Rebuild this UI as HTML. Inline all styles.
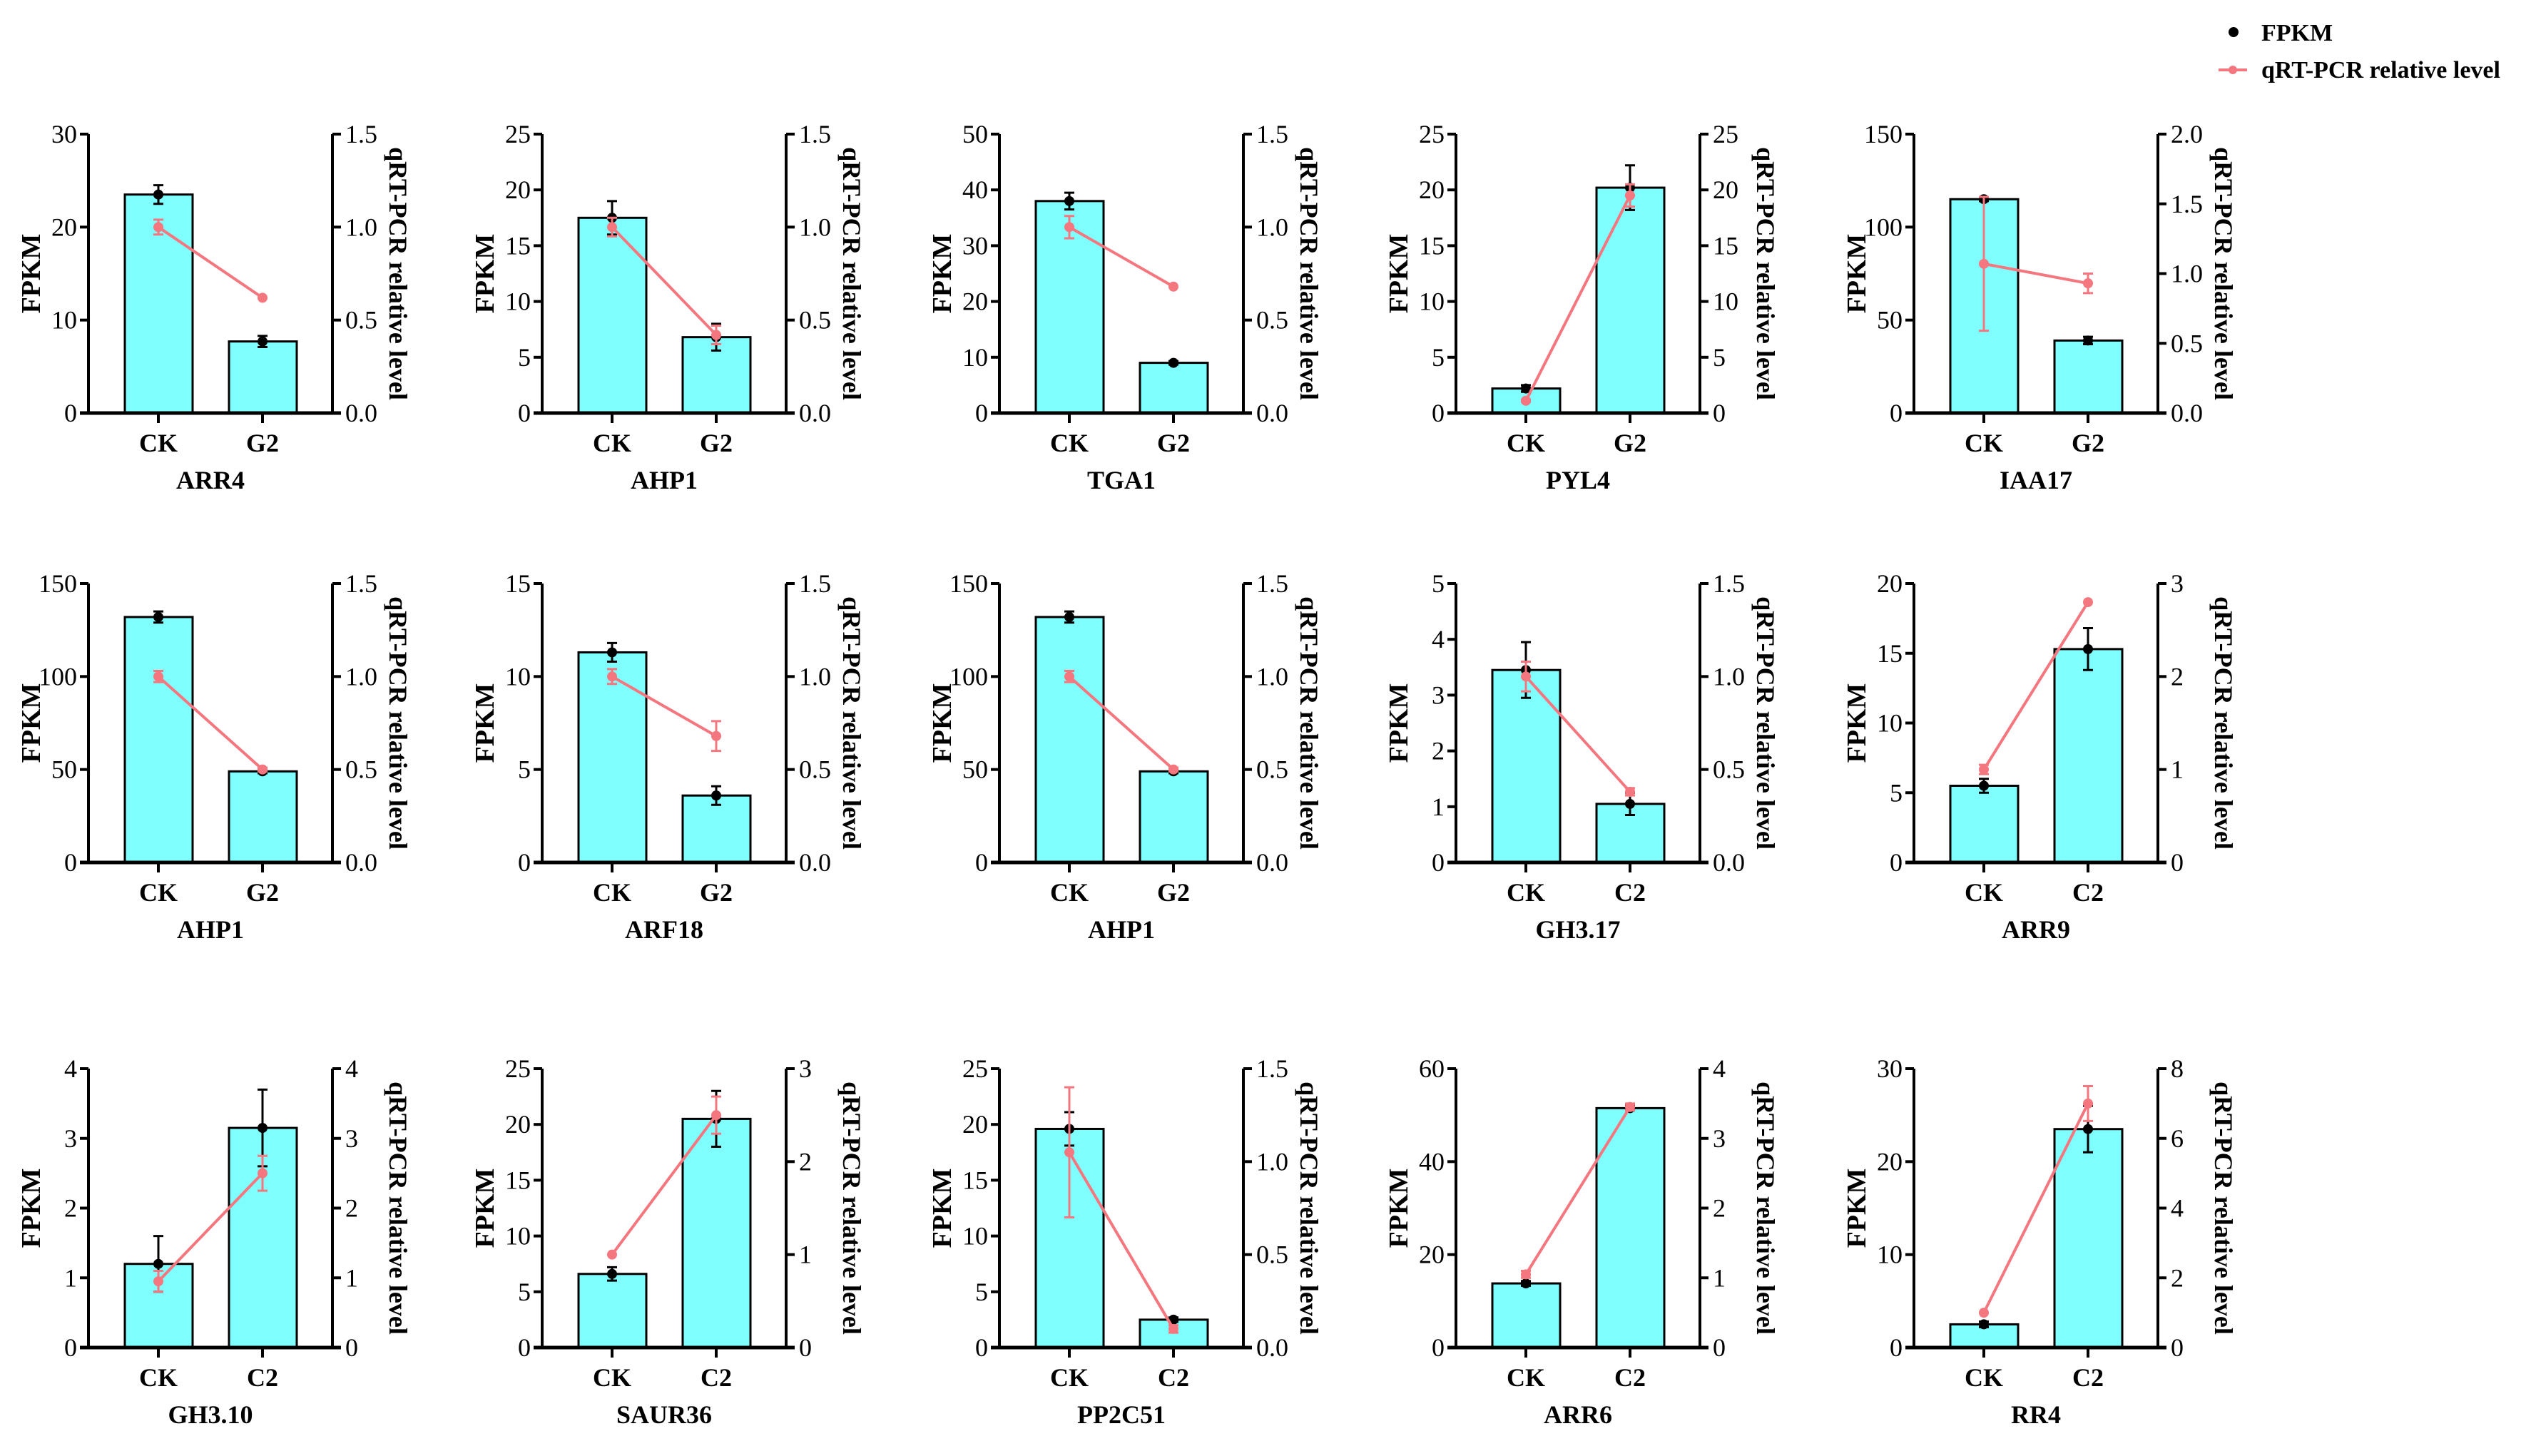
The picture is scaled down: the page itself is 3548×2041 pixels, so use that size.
<!DOCTYPE html>
<html><head><meta charset="utf-8"><style>
html,body{margin:0;padding:0;background:#fff;}
svg{display:block;}
svg text{font-family:"Liberation Serif","Times New Roman",serif;}
</style></head><body>
<svg id="chart" width="3548" height="2041" viewBox="0 0 3548 2041" xmlns="http://www.w3.org/2000/svg" font-family="Liberation Serif, serif">
<g>
<circle cx="3131" cy="45" r="7" fill="#000"/>
<text x="3170" y="57" font-size="34" font-weight="bold">FPKM</text>
<line x1="3110" y1="98" x2="3150" y2="98" stroke="#F4777F" stroke-width="4"/>
<circle cx="3130" cy="98" r="6" fill="#F4777F"/>
<text x="3170" y="109" font-size="34" font-weight="bold">qRT-PCR relative level</text>
</g>
</svg>
<script>
const genes = ["ARR4","AHP1","TGA1","PYL4","IAA17","AHP1","ARF18","AHP1","GH3.17","ARR9","GH3.10","SAUR36","PP2C51","ARR6","RR4"];
const groups = [["CK","G2"],["CK","G2"],["CK","G2"],["CK","G2"],["CK","G2"],["CK","G2"],["CK","G2"],["CK","G2"],["CK","C2"],["CK","C2"],["CK","C2"],["CK","C2"],["CK","C2"],["CK","C2"],["CK","C2"]];
const fpkmValues = [[23.5,7.7],[17.5,6.8],[38,9],[2.2,20.2],[115,39],[132,49],[11.3,3.6],[132,49],[3.45,1.05],[5.5,15.3],[1.2,3.15],[6.6,20.5],[19.6,2.5],[13.8,51.5],[2.5,23.5]];
const fpkmErrors = [[1,0.6],[1.5,1.2],[1.5,0.3],[0.3,2],[1,2],[3,1],[0.5,0.5],[3,1],[0.5,0.2],[0.5,1.5],[0.4,0.55],[0.6,2.5],[1.5,0.2],[0.5,0.5],[0.3,2.5]];
const qpcrValues = [[1.0,0.62],[1.0,0.42],[1.0,0.68],[1.1,19.5],[1.07,0.93],[1.0,0.5],[1.0,0.68],[1.0,0.5],[1.0,0.38],[1.0,2.8],[0.95,2.5],[1.0,2.5],[1.05,0.1],[1.05,3.45],[1.0,7.0]];
const qpcrErrors = [[0.04,0],[0.05,0.05],[0.06,0],[0.1,1],[0.48,0.07],[0.03,0.01],[0.04,0.08],[0.03,0.01],[0.08,0.02],[0.05,0],[0.15,0.25],[0,0.2],[0.35,0.02],[0.05,0.05],[0,0.5]];
const leftMax = [30,25,50,25,150,150,15,150,5,20,4,25,25,60,30];
const leftStep = [10,5,10,5,50,50,5,50,1,5,1,5,5,20,10];
const rightMax = [1.5,1.5,1.5,25,2.0,1.5,1.5,1.5,1.5,3,4,3,1.5,4,8];
const rightStep = [0.5,0.5,0.5,5,0.5,0.5,0.5,0.5,0.5,1,1,1,0.5,1,2];

const NS="http://www.w3.org/2000/svg";
const svg=document.getElementById('chart');
const colX=[124,760,1401,2041,2683];
const rowTop=[188,818,1498];
const PW=342, PH=391;
const FF='Liberation Serif, serif';
function mk(tag,attrs,parent){const e=document.createElementNS(NS,tag);for(const k in attrs)e.setAttribute(k,attrs[k]);if(tag==='text')e.setAttribute('font-family',FF);parent.appendChild(e);return e;}
function fmt(v,step){return Number.isInteger(step)?String(v):v.toFixed(1);}

genes.forEach((g,i)=>{
  const x0=colX[i%5], y0=rowTop[Math.floor(i/5)], yb=y0+PH, x1=x0+PW;
  const ly=v=>yb-v/leftMax[i]*PH;
  const ry=v=>yb-v/rightMax[i]*PH;
  const cx=k=>x0+98+k*146;
  const grp=mk('g',{},svg);
  
  
  fpkmValues[i].forEach((v,k)=>{
    const r=mk('rect',{x:cx(k)-47,y:ly(v),width:95,height:yb-ly(v),fill:'#80FFFF',stroke:'#000','stroke-width':3},grp);
    
    
  });
  const la=mk('line',{x1:x0,y1:y0,x2:x0,y2:yb+2,stroke:'#000','stroke-width':4},grp);
  
  
  for(let t=0;t<=leftMax[i]+1e-9;t+=leftStep[i]){
    mk('line',{x1:x0-12,y1:ly(t),x2:x0,y2:ly(t),stroke:'#000','stroke-width':4},grp);
    const tl=mk('text',{x:x0-16,y:ly(t)+12,'font-size':36,'text-anchor':'end'},grp);
    tl.textContent=fmt(t,leftStep[i]);
    
    
  }
  const ra=mk('line',{x1:x1,y1:y0,x2:x1,y2:yb+2,stroke:'#000','stroke-width':4},grp);
  
  
  for(let t=0;t<=rightMax[i]+1e-9;t+=rightStep[i]){
    mk('line',{x1:x1,y1:ry(t),x2:x1+12,y2:ry(t),stroke:'#000','stroke-width':4},grp);
    const tl=mk('text',{x:x1+18,y:ry(t)+12,'font-size':36},grp);
    tl.textContent=fmt(t,rightStep[i]);
    
    
  }
  const xa=mk('line',{x1:x0-12,y1:yb,x2:x1+12,y2:yb,stroke:'#000','stroke-width':5},grp);
  
  
  groups[i].forEach((c,k)=>{
    mk('line',{x1:cx(k),y1:yb,x2:cx(k),y2:yb+14,stroke:'#000','stroke-width':4},grp);
    const cl=mk('text',{x:cx(k),y:yb+54,'font-size':36,'font-weight':'bold','text-anchor':'middle'},grp);
    cl.textContent=c;
    
    
  });
  const gl=mk('text',{x:(x0+x1)/2,y:yb+106,'font-size':36,'font-weight':'bold','text-anchor':'middle'},grp);
  gl.textContent=g;
  
  
  const yl=mk('text',{x:0,y:0,'font-size':38,'font-weight':'bold','text-anchor':'middle',transform:`translate(${x0-68},${y0+PH/2}) rotate(-90)`},grp);
  yl.textContent='FPKM';
  
  
  const yr=mk('text',{x:0,y:0,'font-size':36,'font-weight':'bold','text-anchor':'middle',transform:`translate(${x1+80},${y0+PH/2}) rotate(90)`},grp);
  yr.textContent='qRT-PCR relative level';
  
  
  fpkmValues[i].forEach((v,k)=>{
    const e=fpkmErrors[i][k];
    mk('path',{d:`M${cx(k)} ${ly(v+e)}V${ly(v-e)}M${cx(k)-7} ${ly(v+e)}h14M${cx(k)-7} ${ly(v-e)}h14`,stroke:'#000','stroke-width':3,fill:'none'},grp);
    const d=mk('circle',{cx:cx(k),cy:ly(v),r:7,fill:'#000'},grp);
    
    
  });
  const q=qpcrValues[i];
  const pl=mk('line',{x1:cx(0),y1:ry(q[0]),x2:cx(1),y2:ry(q[1]),stroke:'#F4777F','stroke-width':4},grp);
  
  
  q.forEach((v,k)=>{
    const e=qpcrErrors[i][k];
    if(e>0) mk('path',{d:`M${cx(k)} ${ry(v+e)}V${ry(v-e)}M${cx(k)-7} ${ry(v+e)}h14M${cx(k)-7} ${ry(v-e)}h14`,stroke:'#F4777F','stroke-width':3,fill:'none'},grp);
    const d=mk('circle',{cx:cx(k),cy:ry(v),r:7,fill:'#F4777F'},grp);
    
    
  });
});
</script>
</body></html>
